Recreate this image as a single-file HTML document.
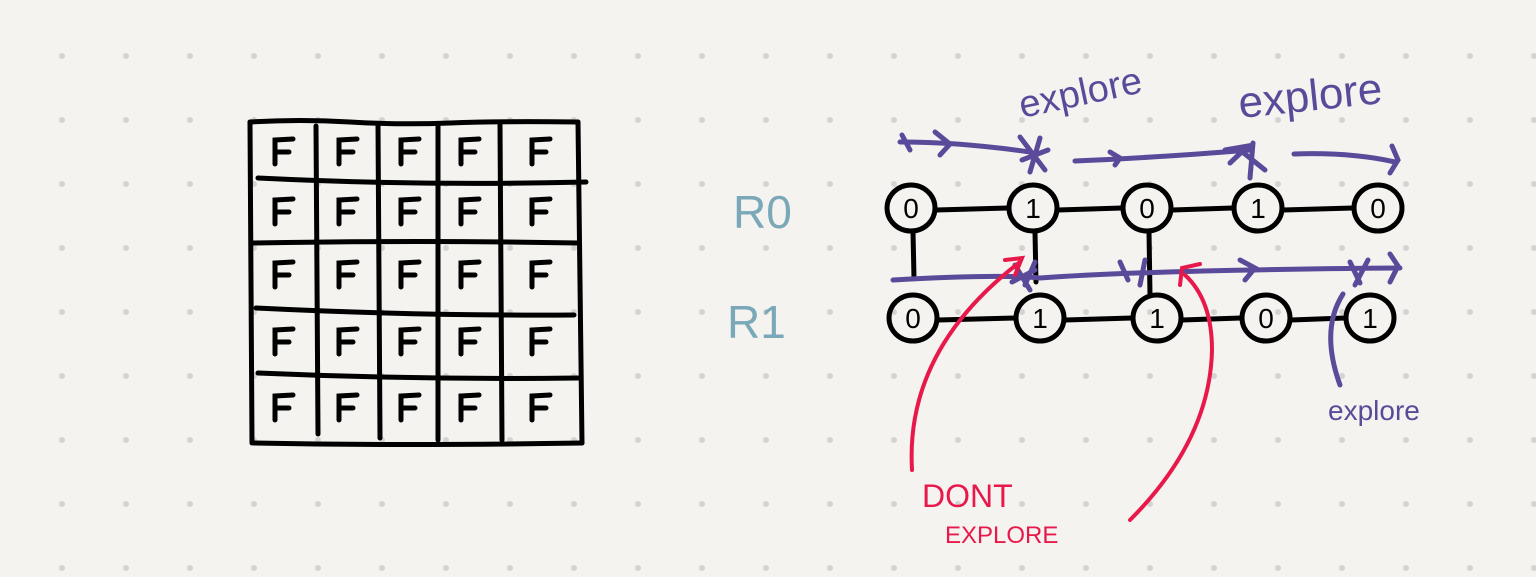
<!DOCTYPE html>
<html><head><meta charset="utf-8"><style>
html,body{margin:0;padding:0;background:#f4f3f0;}
svg{display:block}
.hand{font-family:"Liberation Sans",sans-serif;}
</style></head><body>
<svg id="s" width="1536" height="577" viewBox="0 0 1536 577">
<rect width="1536" height="577" fill="#f4f3f0"/>
<g id="dots"></g>
<g id="grid" stroke="#000" stroke-width="5" stroke-linecap="round" fill="none">
<path d="M250 122 Q300 119 350 122 T450 123 T578 122" />
<path d="M250 122 L252 443" />
<path d="M578 122 L582 443" />
<path d="M254 443 Q400 446 582 443" />
<path d="M316 126 L318 434"/><path d="M378 124 L380 438"/><path d="M438 124 L438 440"/><path d="M500 124 L502 440"/>
<path d="M258 178 Q420 186 586 182"/><path d="M252 243 Q420 240 578 243"/><path d="M256 308 Q420 316 574 315"/><path d="M258 373 Q420 380 578 378"/>
</g>
<g id="fs" stroke="#000" stroke-width="5" stroke-linecap="round" fill="none"></g>
<g>
<text x="733" y="228" font-size="46" fill="#7aa8b8" class="hand">R0</text>
<text x="727" y="338" font-size="46" fill="#7aa8b8" class="hand">R1</text>
</g>
<g id="edges" stroke="#000" stroke-width="5" stroke-linecap="round" fill="none"></g>
<g id="nodes"></g>
<g stroke="#5b4a9a" stroke-width="5" stroke-linecap="round" fill="none">
<path d="M900 142 Q960 142 1030 152"/><path d="M902 135 L910 150 M935 132 L950 144 L940 155"/>
<path d="M1020 137 L1045 170 M1040 138 L1030 172 M1022 160 L1048 150"/>
<path d="M1075 161 Q1150 158 1250 150"/><path d="M1110 152 L1120 158 L1115 165"/>
<path d="M1225 150 L1248 146 L1230 163 M1253 143 L1250 178 M1240 150 L1265 170"/>
<path d="M1294 154 Q1350 152 1395 162 M1392 146 L1398 160 L1390 173"/>
<path d="M893 280 Q1000 274 1040 278 Q1150 270 1400 268"/>
<path d="M1015 265 L1030 290 M1035 262 L1025 285 M1012 282 L1035 270"/>
<path d="M1120 262 L1128 280 M1145 260 L1140 285"/>
<path d="M1240 260 L1255 268 L1245 280"/>
<path d="M1350 262 L1360 283 M1368 260 L1355 285"/>
<path d="M1390 254 L1398 266 L1390 282"/>
<path d="M1343 294 Q1320 330 1340 385"/>
</g>
<g fill="#5b4a9a" class="hand">
<text x="1022" y="118" font-size="38" transform="rotate(-12 1022 118)">explore</text>
<text x="1240" y="118" font-size="44" transform="rotate(-6 1240 118)">explore</text>
<text x="1328" y="420" font-size="28">explore</text>
</g>
<g stroke="#e8194a" stroke-width="4" stroke-linecap="round" fill="none">
<path d="M912 470 Q905 350 1020 262 M1005 260 L1022 258 L1015 275"/>
<path d="M1130 520 Q1210 440 1212 350 Q1212 300 1185 275 M1180 285 L1182 268 L1200 264"/>
</g>
<g fill="#e8194a" class="hand">
<text x="922" y="507" font-size="32">DONT</text>
<text x="945" y="543" font-size="24">EXPLORE</text>
</g>
</svg>
<script>
const row0Values=[0,1,0,1,0];
const row1Values=[0,1,1,0,1];
const row0X=[911,1033,1147,1258,1378];
const row1X=[913,1040,1157,1266,1370];
const NS="http://www.w3.org/2000/svg";
function mk(t,a,p){const e=document.createElementNS(NS,t);for(const k in a)e.setAttribute(k,a[k]);p.appendChild(e);return e;}
const dots=document.getElementById('dots');
for(let x=62;x<1536;x+=64)for(let y=56;y<577;y+=64){const d=mk('circle',{cx:x,cy:y,r:3,fill:'#d3d3d1'},dots);

}
const fs=document.getElementById('fs');
const cx=[283,347,409,469,540],cy=[152,212,275,342,408];
cy.forEach(y=>cx.forEach(x=>{const p=mk('path',{d:`M${x-8} ${y+12} L${x-8} ${y-12} L${x+10} ${y-13} M${x-8} ${y} L${x+6} ${y}`},fs);

}));
const edges=document.getElementById('edges'),nodes=document.getElementById('nodes');
function edge(d){const p=mk('path',{d},edges);

}
for(let i=0;i<4;i++){edge(`M${row0X[i]+25} 210 L${row0X[i+1]-25} 208`);edge(`M${row1X[i]+25} 320 L${row1X[i+1]-25} 318`);}
[0,1,2].forEach(i=>edge(`M${row0X[i]+2} 232 L${row0X[i]+3} ${i==0?278:i==1?282:295}`));
function node(x,y,v){const g=mk('g',{},nodes);


mk('ellipse',{cx:x,cy:y,rx:24,ry:23,fill:'none',stroke:'#000','stroke-width':5},g);
const t=mk('text',{x:x,y:y+10,'font-size':28,'text-anchor':'middle',fill:'#000','font-family':'Liberation Sans, sans-serif'},g);t.textContent=v;}
row0Values.forEach((v,i)=>node(row0X[i],208,v));
row1Values.forEach((v,i)=>node(row1X[i],318,v));
</script>
</body></html>
